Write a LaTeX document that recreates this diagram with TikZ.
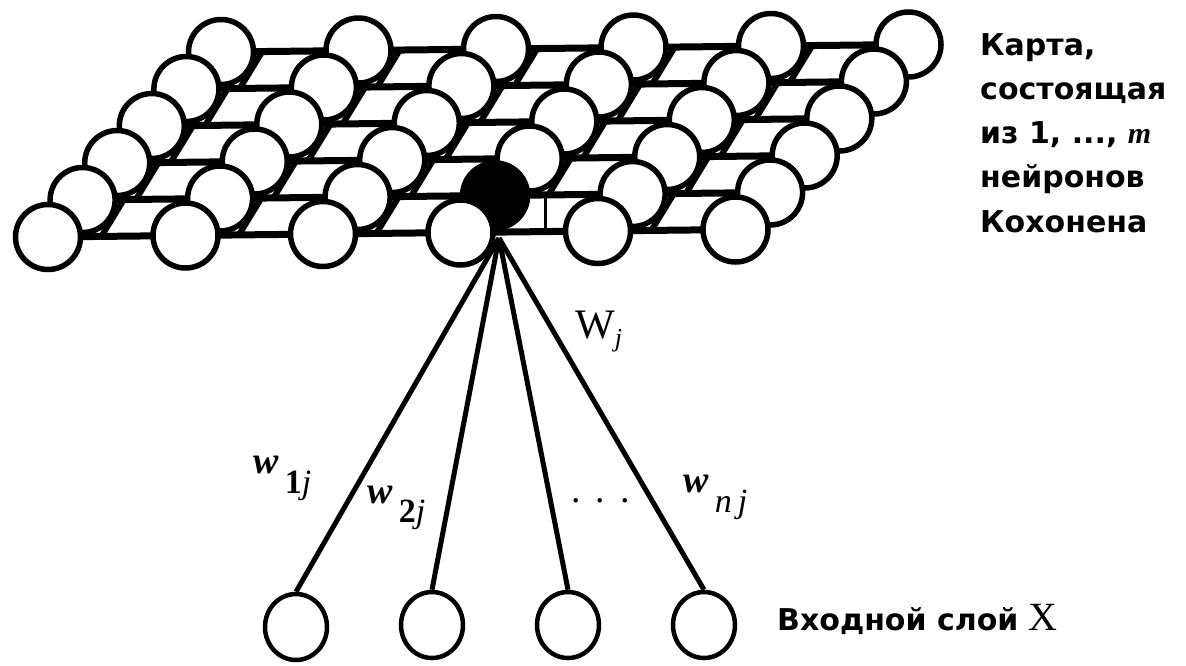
\documentclass[tikz,border=0pt]{standalone}
\usepackage{fontspec}
\setmainfont{Liberation Serif}
\newfontfamily\mapfont{DejaVu Sans}
\usetikzlibrary{shapes.geometric}

\begin{document}
\begin{tikzpicture}[x=1pt, y=-1pt,
  unit/.style={circle, draw, line width=5.5pt, fill=white, minimum size=65pt, inner sep=0pt},
  winner/.style={unit, fill=black},
  inp/.style={ellipse, draw, line width=4.5pt, fill=white, minimum width=62pt, minimum height=66pt, inner sep=0pt},
  rowline/.style={line width=7pt},
  rung/.style={line width=6pt},
  link/.style={line width=5pt},
  caption/.style={font=\mapfont\bfseries\fontsize{30}{44.25}\selectfont, inner sep=0pt},
  weight/.style={font=\fontsize{38}{38}\selectfont, inner sep=0pt, anchor=base west}
]
\useasboundingbox (0,0) rectangle (1186,665);
% lattice points of the map
\foreach \r in {0,...,5}
  \foreach \c in {0,...,5}
    \coordinate (p\r\c) at ({48+137.5*\c+34.6*\r},{237-1.5*\c-37*\r});
% rows
\foreach \r in {0,...,5}
  \foreach \c [count=\cn from 1] in {0,...,4}
    \draw[rowline] (p\r\c) -- (p\r\cn);
% slanted rungs between rows
\foreach \r [count=\rn from 1] in {0,...,4}
  \foreach \c in {0,...,4}
    {\ifnum\r\c=3 \else \draw[rung] ([xshift=53pt]p\r\c) -- ([xshift=41pt]p\rn\c); \fi}
\draw[line width=3pt] ([xshift=50pt]p13) -- ++(0,37);
% neurons, back row first
\foreach \r in {5,4,...,0}
  \foreach \c in {0,...,5}
    {\ifnum\r\c=13 \node[winner] (n\r\c) at (p\r\c) {}; \else \node[unit] (n\r\c) at (p\r\c) {}; \fi}
% input layer
\node[inp] (x1) at (296,627) {};
\node[inp] (x2) at (432,625) {};
\node[inp] (x3) at (568,625) {};
\node[inp] (x4) at (704,625) {};
\coordinate (hub) at (499,238);
\foreach \i in {1,...,4}
  \draw[link] (hub) -- (x\i.north);
% labels
\node[weight] (lW) at (575,338) {\fontsize{42}{42}\selectfont W\raisebox{-8pt}{\fontsize{26}{26}\selectfont\itshape j}};
\node[weight] (l1) at (253,473) {{\bfseries\itshape w}\,\raisebox{-20pt}{\fontsize{34}{34}\selectfont\bfseries 1\mdseries\itshape j}};
\node[weight] (l2) at (367,503) {{\bfseries\itshape w}\,\raisebox{-19pt}{\fontsize{34}{34}\selectfont\bfseries 2\mdseries\itshape j}};
\node[weight] (ln) at (683,492) {{\bfseries\itshape w}\,\raisebox{-20pt}{\fontsize{34}{34}\selectfont\itshape n\hspace{6pt}j}};
\node[weight] (dots) at (571,502) {.\hspace{15pt}.\hspace{15pt}.};
\node[caption, anchor=north west, align=left] (map) at (980,33) {Карта,\\состоящая\\из 1, ..., {\rmfamily\itshape m}\\нейронов\\Кохонена};
\node[caption, anchor=base west] (inlabel) at (777,630) {Входной слой {\rmfamily\mdseries\fontsize{40}{40}\selectfont X}};
\end{tikzpicture}
\end{document}
